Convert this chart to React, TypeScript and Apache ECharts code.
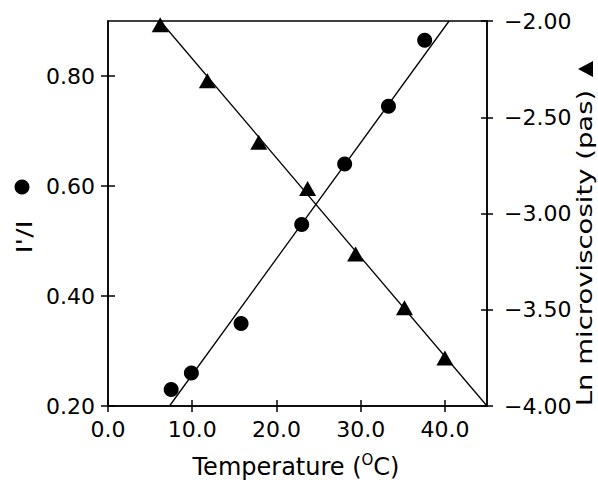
import React, { useEffect, useRef } from 'react';
import * as echarts from 'echarts';

// Data
const circleTemps = [7.5, 9.9, 15.8, 23.0, 28.1, 33.3, 37.6];
const intensityRatio = [0.23, 0.26, 0.35, 0.53, 0.64, 0.745, 0.865];
const triangleTemps = [6.2, 11.8, 17.9, 23.7, 29.4, 35.2, 40.0];
const lnMicroviscosity = [-2.02, -2.31, -2.63, -2.87, -3.21, -3.49, -3.75];
// fitted line end points
const ratioFitTemps = [7.3, 40.5];
const ratioFitValues = [0.2, 0.9];
const viscFitTemps = [6.2, 45];
const viscFitValues = [-2.0, -4.0];
// tick values
const xTicks = [0, 10, 20, 30, 40];
const leftTicks = [0.2, 0.4, 0.6, 0.8];
const rightTicks = [-4, -3.5, -3, -2.5, -2];

const FONT = 'DejaVu Sans';
const INK = '#000';

export default function App() {
  const ref = useRef<HTMLDivElement>(null);
  useEffect(() => {
    const chart = echarts.init(ref.current!, null, { renderer: 'svg' });
    const lineStyle = { color: INK, width: 1.5 };
    const labelStyle = { fontFamily: FONT, fontSize: 22, color: INK };
    const option: any = {
      animation: false,
      backgroundColor: '#fff',
      grid: {
        left: 108,
        top: 21,
        width: 379,
        height: 385,
        show: true,
        borderColor: INK,
        borderWidth: 1.5,
        backgroundColor: 'transparent',
      },
      xAxis: [
        {
          type: 'value',
          min: 0,
          max: 45,
          interval: 10,
          position: 'bottom',
          axisLine: { show: true, onZero: false, lineStyle },
          axisTick: { show: true, length: 6, lineStyle, customValues: xTicks },
          axisLabel: {
            ...labelStyle,
            margin: 12,
            customValues: xTicks,
            formatter: (v: number) => (v > 44 ? '' : v.toFixed(1)),
          },
          splitLine: { show: false },
        },
        {
          type: 'value',
          min: 0,
          max: 45,
          interval: 10,
          position: 'bottom',
          axisLine: { show: false, onZero: false },
          axisTick: { show: true, inside: true, length: 6, lineStyle, customValues: xTicks },
          axisLabel: { show: false },
          splitLine: { show: false },
        },
      ],
      yAxis: [
        {
          type: 'value',
          min: 0.2,
          max: 0.9,
          interval: 0.2,
          position: 'left',
          axisLine: { show: true, onZero: false, lineStyle },
          axisTick: { show: true, length: 7, lineStyle, customValues: leftTicks },
          axisLabel: {
            ...labelStyle,
            margin: 13,
            customValues: leftTicks,
            formatter: (v: number) => (v > 0.85 ? '' : v.toFixed(2)),
          },
          splitLine: { show: false },
        },
        {
          type: 'value',
          min: -4,
          max: -2,
          interval: 0.5,
          position: 'right',
          axisLine: { show: true, onZero: false, lineStyle },
          axisTick: { show: true, length: 6, lineStyle, customValues: rightTicks },
          axisLabel: {
            ...labelStyle,
            margin: 17,
            customValues: rightTicks,
            formatter: (v: number) => v.toFixed(2).replace('-', '\u2212'),
          },
          splitLine: { show: false },
        },
        {
          type: 'value',
          min: 0.2,
          max: 0.9,
          interval: 0.2,
          position: 'left',
          axisLine: { show: false, onZero: false },
          axisTick: { show: true, inside: true, length: 7, lineStyle, customValues: leftTicks },
          axisLabel: { show: false },
          splitLine: { show: false },
        },
        {
          type: 'value',
          min: -4,
          max: -2,
          interval: 0.5,
          position: 'right',
          axisLine: { show: false, onZero: false },
          axisTick: { show: true, inside: true, length: 6, lineStyle, customValues: rightTicks },
          axisLabel: { show: false },
          splitLine: { show: false },
        },
      ],
      series: [
        {
          type: 'line',
          xAxisIndex: 0,
          yAxisIndex: 0,
          showSymbol: false,
          data: ratioFitTemps.map((t, i) => [t, ratioFitValues[i]]),
          lineStyle: { color: INK, width: 1.3 },
          silent: true,
        },
        {
          type: 'line',
          xAxisIndex: 0,
          yAxisIndex: 1,
          showSymbol: false,
          data: viscFitTemps.map((t, i) => [t, viscFitValues[i]]),
          lineStyle: { color: INK, width: 1.3 },
          silent: true,
        },
        {
          type: 'scatter',
          xAxisIndex: 0,
          yAxisIndex: 0,
          symbol: 'circle',
          symbolSize: 15,
          itemStyle: { color: INK, opacity: 1 },
          data: circleTemps.map((t, i) => [t, intensityRatio[i]]),
        },
        {
          type: 'scatter',
          xAxisIndex: 0,
          yAxisIndex: 1,
          symbol: 'triangle',
          symbolSize: [17, 15],
          itemStyle: { color: INK, opacity: 1 },
          data: triangleTemps.map((t, i) => [t, lnMicroviscosity[i]]),
        },
      ],
      graphic: [
        {
          type: 'text',
          x: 296,
          y: 467,
          style: {
            text: 'Temperature ({s|O}C)',
            fontFamily: FONT,
            fontSize: 24,
            fill: INK,
            align: 'center',
            verticalAlign: 'middle',
            rich: {
              s: { fontFamily: FONT, fontSize: 15, fill: INK, padding: [0, 0, 14, 0] },
            },
          },
        },
        {
          type: 'circle',
          shape: { cx: 22, cy: 187, r: 7.5 },
          style: { fill: INK },
        },
        {
          type: 'text',
          x: 24,
          y: 237,
          rotation: Math.PI / 2,
          scaleX: 1.25,
          style: {
            text: "I'/I",
            font: `22px "${FONT}"`,
            fill: INK,
            align: 'center',
            verticalAlign: 'middle',
          },
        },
        {
          type: 'text',
          x: 584,
          y: 248,
          rotation: Math.PI / 2,
          scaleX: 1.25,
          style: {
            text: 'Ln microviscosity (pas)',
            font: `22px "${FONT}"`,
            fill: INK,
            align: 'center',
            verticalAlign: 'middle',
          },
        },
        {
          type: 'polygon',
          shape: { points: [[578, 69], [593, 61], [593, 77]] },
          style: { fill: INK },
        },
      ],
    };
    chart.setOption(option);
    return () => chart.dispose();
  }, []);
  return (
    <div
      ref={ref}
      style={{ position: 'absolute', left: 0, top: 0, width: 598, height: 480, background: '#fff' }}
    />
  );
}
